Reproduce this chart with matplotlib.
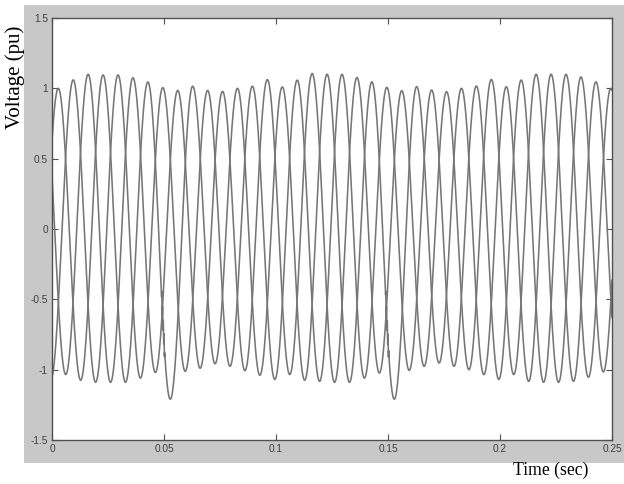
import numpy as np
import matplotlib.pyplot as plt
from matplotlib.patches import Rectangle

# Three-phase voltage waveform (50 Hz) with two short disturbances.
# Peak / trough values.
freq = 50.0
period = 1.0 / freq
first_peak = 0.0028          # time of peak k = 0 (s)

# positive peaks of the combined trace, one every T/3, k = -1 .. 38
peak_vals = [1.062,
             1.00, 1.06, 1.10, 1.095, 1.095, 1.075, 1.045, 1.005, 0.985, 1.015,
             0.985, 0.978, 1.00, 1.015, 1.062, 1.01, 1.058, 1.105, 1.10, 1.10,
             1.077, 1.046, 1.007, 0.983, 1.012, 0.988, 0.976, 1.00, 1.016, 1.063,
             1.011, 1.059, 1.10, 1.10, 1.10, 1.081, 1.046, 1.00,
             0.985]
# negative peaks, T/6 after each positive peak, j = -2 .. 38
trough_vals = [-1.04, -1.07,
               -1.035, -1.075, -1.09, -1.09, -1.09, -1.06, -1.02, -1.21, -1.012, -0.99,
               -0.958, -0.976, -1.007, -1.04, -1.07, -1.035, -1.075, -1.083, -1.09, -1.09,
               -1.06, -1.024, -1.21, -1.005, -0.976, -0.953, -0.976, -1.0, -1.035, -1.07,
               -1.035, -1.083, -1.09, -1.09, -1.083, -1.054, -1.016, -1.0,
               -1.012]
# short ripple on the falling phase just before the deep troughs
disturb_times = [0.0496, 0.1496]

x_ticks = [0, 0.05, 0.1, 0.15, 0.2, 0.25]
x_ticklabels = ['0', '0.05', '0.1', '0.15', '0.2', '0.25']
y_ticks = [-1.5, -1, -0.5, 0, 0.5, 1, 1.5]
y_ticklabels = ['-1.5', '-1', '-0.5', '0', '0.5', '1', '1.5']

# build extrema list per phase
step = period / 3
ext = {0: [], 1: [], 2: []}
for i, v in enumerate(peak_vals):
    k = i - 1
    ext[k % 3].append((first_peak + k * step, v))
for i, v in enumerate(trough_vals):
    j = i - 2
    ext[(j - 1) % 3].append((first_peak + period / 6 + j * step, v))

t = np.linspace(0, 0.25, 6000)
phases = []
for p in range(3):
    pts = sorted(ext[p])
    tt = np.array([a for a, b in pts])
    vv = np.array([b for a, b in pts])
    idx = np.clip(np.searchsorted(tt, t) - 1, 0, len(tt) - 2)
    s = (t - tt[idx]) / (tt[idx + 1] - tt[idx])
    v = vv[idx] + (vv[idx + 1] - vv[idx]) * (1 - np.cos(np.pi * s)) / 2
    if p == 0:
        for td in disturb_times:
            m = np.abs(t - td) < 0.0007
            v[m] += 0.06 * np.sin(2 * np.pi * 3000 * (t[m] - td))
    phases.append(v)

fig = plt.figure(figsize=(6.24, 4.84), dpi=100)
fig.patch.set_facecolor('white')
bg = Rectangle((24 / 624, 21 / 484), 600 / 624, 458 / 484,
               transform=fig.transFigure, facecolor='#c8c8c8',
               edgecolor='none', zorder=-5)
fig.patches.append(bg)

ax = fig.add_axes([52 / 624, 44 / 484, 560 / 624, 422 / 484])
ax.set_zorder(1)
ax.set_facecolor('white')
for v in phases:
    ax.plot(t, v, color='#767676', lw=1.15)

ax.set_xlim(0, 0.25)
ax.set_ylim(-1.5, 1.5)
ax.set_xticks(x_ticks)
ax.set_xticklabels(x_ticklabels)
ax.set_yticks(y_ticks)
ax.set_yticklabels(y_ticklabels)
ax.tick_params(direction='in', length=4, width=0.8, color='#505050',
               top=True, right=True, labelsize=7.3, labelcolor='#404040', pad=3)
for lab in ax.get_xticklabels() + ax.get_yticklabels():
    lab.set_fontfamily('Liberation Sans')
for sp in ax.spines.values():
    sp.set_color('#505050')
    sp.set_linewidth(1.0)

fig.text(15 / 624, 1 - 26 / 484, 'Voltage (pu)', rotation=90, ha='center', va='top',
         fontsize=15, family='Liberation Serif')
fig.text(551 / 624, 1 - 470 / 484, 'Time (sec)', ha='center', va='center',
         fontsize=12.7, family='Liberation Serif')

fig.savefig('out.png', dpi=100, facecolor='white')
